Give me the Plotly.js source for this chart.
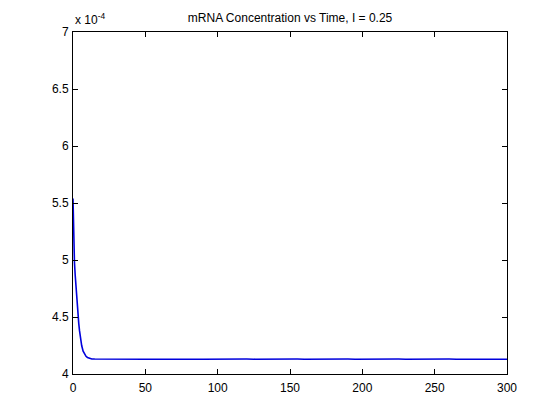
<!DOCTYPE html>
<html>
<head>
<meta charset="utf-8">
<script src="https://cdn.plot.ly/plotly-3.0.1.min.js"></script>
<style>html,body{margin:0;padding:0;background:#fff;}#chart{width:560px;height:420px;}</style>
</head>
<body>
<div id="chart"></div>
<script>
// time values
const timeEarly = [0, 0.25, 0.5, 0.75, 1, 1.5, 2, 2.5, 3, 3.5, 4, 4.5, 5, 6, 7, 8, 9, 10, 11, 12, 13];
// mRNA concentration (units of 1e-4)
const mrnaEarly = [5.54, 5.36, 5.20, 5.08, 4.98, 4.87, 4.77, 4.67, 4.58, 4.50, 4.44, 4.38, 4.33, 4.25, 4.20, 4.17, 4.155, 4.145, 4.14, 4.135, 4.132];
const timeLate = [15, 20, 25, 30, 35, 40, 45, 50, 55, 60, 65, 70, 75, 80, 85, 90, 95, 100, 105, 110, 115, 120, 125, 130, 135, 140, 145, 150, 155, 160, 165, 170, 175, 180, 185, 190, 195, 200, 205, 210, 215, 220, 225, 230, 235, 240, 245, 250, 255, 260, 265, 270, 275, 280, 285, 290, 295, 300];
const mrnaLate = [4.131, 4.130, 4.131, 4.130, 4.131, 4.130, 4.131, 4.130, 4.130, 4.131, 4.130, 4.131, 4.130, 4.131, 4.130, 4.130, 4.131, 4.130, 4.131, 4.130, 4.130, 4.131, 4.130, 4.131, 4.130, 4.130, 4.131, 4.130, 4.131, 4.130, 4.131, 4.130, 4.130, 4.131, 4.130, 4.131, 4.130, 4.131, 4.130, 4.130, 4.131, 4.130, 4.131, 4.130, 4.131, 4.130, 4.130, 4.131, 4.130, 4.131, 4.130, 4.130, 4.131, 4.130, 4.131, 4.130, 4.131, 4.130];
const xTicks = [0, 50, 100, 150, 200, 250, 300];
const yTicks = [4, 4.5, 5, 5.5, 6, 6.5, 7];
const yTickText = ['4', '4.5', '5', '5.5', '6', '6.5', '7'];
const titleText = 'mRNA Concentration vs Time, I = 0.25';
const exponentText = 'x 10<sup>-4</sup>';

const trace = {
  x: timeEarly.concat(timeLate),
  y: mrnaEarly.concat(mrnaLate),
  type: 'scatter',
  mode: 'lines',
  line: {color: 'rgb(0,0,220)', width: 1.6},
  hoverinfo: 'skip'
};

const font = {family: 'Liberation Sans, Arial, sans-serif', size: 12, color: '#000'};

const axisCommon = {
  showgrid: false,
  zeroline: false,
  showline: true,
  linecolor: '#000',
  linewidth: 1,
  mirror: 'ticks',
  ticks: 'inside',
  ticklen: 5,
  tickcolor: '#000',
  tickwidth: 1,
  tickfont: font
};

const layout = {
  width: 560,
  height: 420,
  margin: {l: 73, r: 53, t: 32, b: 46},
  paper_bgcolor: '#fff',
  plot_bgcolor: '#fff',
  showlegend: false,
  font: font,
  title: {text: titleText, font: {family: font.family, size: 12, color: '#000'}, x: 0.518, xanchor: 'center', y: 0.958, yanchor: 'middle'},
  xaxis: Object.assign({}, axisCommon, {range: [0, 300], tickvals: xTicks, ticktext: xTicks.map(String), ticklabelstandoff: 3}),
  yaxis: Object.assign({}, axisCommon, {range: [4, 7], tickvals: yTicks, ticktext: yTickText, ticklabelstandoff: 1}),
  annotations: [{
    text: exponentText,
    xref: 'paper', yref: 'paper',
    x: 0, y: 1, xanchor: 'left', yanchor: 'bottom',
    yshift: 3,
    showarrow: false,
    font: {family: font.family, size: 12, color: '#000'}
  }]
};

Plotly.newPlot('chart', [trace], layout, {displayModeBar: false, staticPlot: true});
</script>
</body>
</html>
